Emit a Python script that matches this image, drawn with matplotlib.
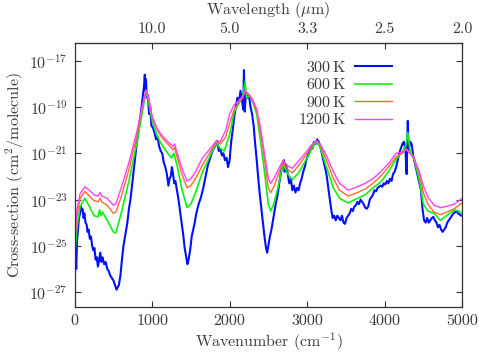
import numpy as np
import matplotlib
matplotlib.use("Agg")
import matplotlib.pyplot as plt

# ---------------- data (log10 of cross-section, cm^2/molecule) ----------------
nu_1200 = [0, 30, 70, 130, 190, 250, 300, 330, 350, 420, 500, 530, 600, 700, 800, 870, 920, 950,
           1000, 1060, 1120, 1200, 1270, 1290, 1320, 1380, 1450, 1500, 1560, 1650, 1750, 1830, 1880,
           1950, 2000, 2060, 2120, 2170, 2200, 2250, 2300, 2350, 2400, 2450, 2500, 2530, 2570, 2630,
           2690, 2750, 2810, 2900, 3000, 3080, 3120, 3170, 3250, 3340, 3420, 3530, 3650, 3750, 3850,
           3950, 4050, 4150, 4230, 4280, 4330, 4380, 4450, 4500, 4560, 4640, 4720, 4800, 4900, 4960, 5000]
lg_1200 = [-24.6, -23.4, -22.75, -22.45, -22.6, -22.8, -22.85, -22.7, -22.85, -22.95, -23.25, -23.2,
           -22.5, -21.4, -20.1, -19.0, -18.25, -18.5, -19.4, -19.9, -20.2, -20.5, -20.7, -20.6, -20.95,
           -21.6, -22.2, -22.1, -21.8, -21.2, -20.8, -20.45, -20.5, -20.0, -19.3, -18.9, -18.7, -18.55,
           -18.3, -18.45, -18.7, -19.1, -19.9, -21.0, -22.1, -22.3, -22.1, -21.7, -21.3, -21.55, -21.65,
           -21.3, -20.9, -20.55, -20.45, -20.6, -21.1, -21.8, -22.3, -22.6, -22.45, -22.3, -22.1, -21.8,
           -21.45, -21.0, -20.95, -20.85, -21.0, -21.2, -21.8, -22.4, -22.9, -23.25, -23.35, -23.3,
           -23.2, -23.05, -22.95]

nu_900 = nu_1200
lg_900 = [-24.9, -23.7, -22.95, -22.65, -22.85, -23.05, -23.1, -22.95, -23.1, -23.25, -23.6, -23.55,
          -22.9, -21.7, -20.3, -19.1, -18.3, -18.55, -19.45, -19.95, -20.3, -20.6, -20.85, -20.75,
          -21.15, -21.85, -22.5, -22.4, -22.1, -21.5, -20.95, -20.5, -20.6, -20.3, -19.7, -19.1, -18.8,
          -18.6, -18.3, -18.5, -18.75, -19.2, -20.1, -21.3, -22.5, -22.7, -22.45, -21.9, -21.4, -21.7,
          -21.85, -21.5, -21.0, -20.6, -20.45, -20.65, -21.3, -22.1, -22.6, -22.85, -22.7, -22.55, -22.3,
          -22.0, -21.6, -21.15, -21.0, -20.8, -21.0, -21.25, -21.9, -22.7, -23.2, -23.55, -23.65, -23.55,
          -23.4, -23.25, -23.15]

nu_600 = [0, 30, 70, 130, 190, 250, 300, 320, 340, 360, 420, 500, 530, 600, 700, 800, 870, 920, 950,
          1000, 1060, 1120, 1200, 1250, 1280, 1320, 1380, 1450, 1500, 1560, 1650, 1750, 1830, 1880,
          1930, 2000, 2060, 2120, 2170, 2200, 2220, 2260, 2300, 2350, 2400, 2450, 2500, 2530, 2570,
          2630, 2690, 2750, 2810, 2900, 3000, 3080, 3120, 3170, 3250, 3340, 3420, 3530, 3650, 3750,
          3850, 3950, 4050, 4150, 4230, 4280, 4300, 4330, 4380, 4450, 4500, 4560, 4640, 4720, 4800,
          4900, 4960, 5000]
lg_600 = [-25.4, -24.2, -23.3, -22.95, -23.3, -23.7, -23.75, -23.45, -23.7, -23.55, -23.9, -24.4,
          -24.45, -23.6, -22.2, -20.6, -19.3, -18.35, -18.7, -19.6, -20.2, -20.6, -21.0, -21.2, -21.0,
          -21.5, -22.5, -23.35, -23.2, -22.7, -21.8, -21.1, -20.55, -20.8, -20.9, -20.2, -19.2, -18.85,
          -18.5, -17.9, -18.6, -18.5, -18.8, -19.3, -20.5, -21.8, -23.2, -23.5, -23.2, -22.4, -21.45,
          -21.9, -22.15, -21.8, -21.2, -20.7, -20.5, -20.75, -21.6, -22.5, -22.95, -23.15, -22.95,
          -22.8, -22.5, -22.25, -21.8, -21.25, -20.95, -20.6, -20.1, -20.9, -21.2, -22.2, -23.2, -23.5,
          -23.6, -23.9, -23.7, -23.45, -23.5, -23.6]

nu_300 = [0, 10, 20, 30, 45, 55, 70, 80, 90, 100, 115, 125, 140, 155, 165, 180, 195, 210, 225, 240,
          255, 270, 285, 300, 315, 330, 345, 360, 380, 400, 420, 440, 460, 480, 500, 520, 540, 555,
          570, 590, 610, 630, 650, 680, 700, 720, 740, 760, 780, 800, 820, 840, 860, 880, 895, 905,
          912, 920, 930, 945, 960, 975, 990, 1010, 1030, 1050, 1070, 1090, 1110, 1130, 1150, 1170,
          1190, 1210, 1225, 1240, 1255, 1270, 1285, 1300, 1320, 1340, 1360, 1380, 1400, 1420, 1440,
          1455, 1470, 1490, 1510, 1530, 1550, 1570, 1600, 1630, 1660, 1690, 1720, 1750, 1780, 1810,
          1840, 1860, 1880, 1900, 1920, 1940, 1960, 1980, 2000, 2020, 2040, 2060, 2080, 2100, 2120,
          2140, 2160, 2175, 2185, 2195, 2210, 2230, 2250, 2270, 2290, 2310, 2330, 2350, 2370, 2390,
          2410, 2430, 2450, 2470, 2485, 2500, 2520, 2540, 2560, 2580, 2600, 2620, 2640, 2660, 2680,
          2700, 2710, 2730, 2750, 2770, 2790, 2810, 2830, 2850, 2870, 2890, 2910, 2930, 2950, 2970,
          2990, 3010, 3030, 3050, 3070, 3090, 3110, 3130, 3150, 3170, 3190, 3210, 3230, 3250, 3270,
          3290, 3310, 3330, 3350, 3370, 3390, 3410, 3430, 3450, 3470, 3490, 3510, 3530, 3550, 3570,
          3590, 3610, 3630, 3650, 3670, 3690, 3710, 3730, 3750, 3770, 3790, 3810, 3830, 3850, 3870,
          3890, 3910, 3930, 3950, 3970, 3990, 4010, 4030, 4050, 4070, 4090, 4110, 4130, 4150, 4170,
          4190, 4210, 4230, 4250, 4270, 4285, 4300, 4310, 4330, 4350, 4370, 4390, 4410, 4430, 4450,
          4470, 4490, 4510, 4530, 4550, 4570, 4590, 4610, 4630, 4650, 4670, 4690, 4710, 4730, 4750,
          4770, 4790, 4810, 4830, 4850, 4870, 4890, 4910, 4930, 4950, 4970, 4990, 5000]
lg_300 = [-26.6, -25.4, -26.0, -24.8, -24.2, -23.8, -23.6, -23.3, -23.5, -23.4, -23.8, -23.6, -24.0,
          -24.1, -24.4, -24.3, -24.7, -24.6, -25.0, -25.2, -25.1, -25.6, -25.5, -25.9, -25.6, -25.3,
          -25.7, -25.5, -25.8, -25.7, -26.0, -26.1, -26.3, -26.4, -26.5, -26.7, -26.9, -26.8, -26.7,
          -26.3, -25.6, -25.0, -24.6, -24.0, -23.4, -23.0, -22.4, -21.8, -21.2, -20.6, -20.1, -19.6,
          -19.1, -18.5, -18.1, -17.6, -18.3, -17.8, -18.6, -18.5, -19.3, -19.0, -19.8, -19.9, -20.1,
          -20.4, -20.3, -20.7, -20.9, -21.0, -21.4, -21.6, -21.9, -22.4, -22.1, -22.0, -21.6, -21.9,
          -22.3, -22.2, -22.6, -23.0, -23.5, -24.0, -24.5, -25.1, -25.5, -25.8, -25.6, -25.2, -24.6,
          -24.3, -24.0, -23.6, -23.2, -22.9, -22.5, -22.0, -21.5, -21.2, -20.9, -20.7, -20.5, -20.9,
          -20.8, -21.1, -21.0, -21.3, -21.2, -21.6, -21.3, -20.5, -20.0, -19.4, -19.0, -18.6, -18.8,
          -18.3, -18.7, -19.1, -17.4, -19.2, -18.4, -18.6, -18.5, -19.0, -19.3, -19.8, -20.6, -21.3,
          -22.1, -22.8, -23.4, -24.0, -24.6, -25.1, -25.3, -25.0, -24.6, -24.3, -23.9, -23.5, -23.1,
          -22.8, -22.3, -21.9, -21.5, -21.3, -21.8, -21.5, -21.9, -22.3, -22.1, -22.6, -22.4, -22.7,
          -22.5, -22.6, -22.3, -22.1, -21.8, -21.6, -21.3, -21.1, -20.9, -20.7, -20.8, -20.5, -20.6,
          -20.4, -20.5, -20.7, -21.0, -21.3, -21.6, -21.9, -22.4, -22.9, -23.4, -23.8, -23.7, -23.9,
          -23.7, -23.8, -23.9, -23.7, -24.0, -24.05, -23.8, -23.7, -23.6, -23.4, -23.5, -23.3, -23.25,
          -23.1, -23.2, -23.0, -23.1, -23.2, -23.35, -23.4, -23.3, -23.0, -22.9, -22.8, -22.6, -22.65,
          -22.5, -22.45, -22.4, -22.45, -22.3, -22.35, -22.2, -22.3, -22.1, -22.2, -21.9, -21.8, -21.6,
          -21.3, -21.0, -20.8, -20.6, -20.5, -20.9, -21.9, -19.6, -20.9, -20.5, -20.6, -21.1, -21.4,
          -21.7, -22.0, -22.3, -22.6, -23.4, -23.9, -24.0, -23.8, -24.0, -23.9, -23.8, -23.75, -23.9,
          -24.0, -24.2, -24.1, -24.3, -24.4, -24.3, -24.2, -24.0, -23.9, -23.8, -23.7, -23.6, -23.55,
          -23.5, -23.6, -23.65, -23.7, -23.7]

series_labels = ["300$\\,$K", "600$\\,$K", "900$\\,$K", "1200$\\,$K"]
bottom_ticks = [0, 1000, 2000, 3000, 4000, 5000]
top_ticks = [1000, 2000, 3000, 4000, 5000]
top_labels = ["10.0", "5.0", "3.3", "2.5", "2.0"]
y_exps = [-27, -25, -23, -21, -19, -17]

# ---------------- style ----------------
plt.rcParams['font.family'] = ['cmr10', 'DejaVu Serif']
plt.rcParams['mathtext.fontset'] = 'cm'
plt.rcParams['axes.unicode_minus'] = False
plt.rcParams['axes.formatter.use_mathtext'] = True
TXT = '#3a3a3a'
FS = 11.5

fig = plt.figure(figsize=(4.79, 3.52), dpi=100)
ax = fig.add_axes([74.7/479, 1-307/352, (462-74.7)/479, (307-43)/352])

colors = ['#0010ff', '#10f010', '#ff6a30', '#ff40ff']
data = [(nu_300, lg_300), (nu_600, lg_600), (nu_900, lg_900), (nu_1200, lg_1200)]
lws = [1.5, 1.2, 1.0, 1.0]
for (nu, lg), c, lab, lw in zip(data, colors, series_labels, lws):
    ax.plot(nu, np.power(10.0, lg), color=c, lw=lw, label=lab)

ax.set_yscale('log')
ax.set_xlim(0, 5000)
ax.set_ylim(10**-27.65, 10**-16.23)
ax.set_xticks(bottom_ticks)
ax.set_xticklabels([str(t) for t in bottom_ticks])
ax.set_yticks([10.0**e for e in y_exps])
ax.set_yticklabels(["$10^{%d}$" % e for e in y_exps])
ax.yaxis.set_minor_locator(matplotlib.ticker.NullLocator())
ax.tick_params(which='major', direction='in', length=4.5, width=0.8, color='#333333',
               labelsize=FS, labelcolor=TXT, right=True, top=False, pad=5)
for s in ax.spines.values():
    s.set_color('#333333')
    s.set_linewidth(0.9)

sec = ax.secondary_xaxis('top', functions=(lambda x: x, lambda x: x))
sec.set_xticks(top_ticks)
sec.set_xticklabels(top_labels)
sec.tick_params(direction='in', length=4.5, width=0.8, color='#333333', labelsize=FS,
                labelcolor=TXT, pad=5)
sec.set_xlabel("Wavelength ($\\mu$m)", fontsize=FS, color=TXT, labelpad=6)

ax.set_xlabel("Wavenumber (cm$^{-1}$)", fontsize=FS, color=TXT, labelpad=2)
ax.set_ylabel("Cross-section (cm$^2$/molecule)", fontsize=FS, color=TXT, labelpad=2)

leg = ax.legend(loc='upper right', bbox_to_anchor=(392/479, 1-60/352),
                bbox_transform=fig.transFigure, frameon=False, markerfirst=False,
                fontsize=FS, handlelength=2.3, handletextpad=0.6, labelspacing=0.15,
                borderpad=0, borderaxespad=0)
for t in leg.get_texts():
    t.set_color(TXT)

fig.savefig('out.png', dpi=100)
